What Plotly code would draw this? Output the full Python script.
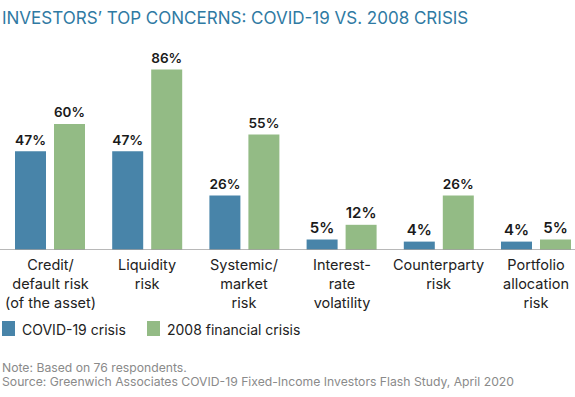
import plotly.graph_objects as go

categories = ["Credit/<br>default risk<br>(of the asset)", "Liquidity<br>risk",
              "Systemic/<br>market<br>risk", "Interest-<br>rate<br>volatility",
              "Counterparty<br>risk", "Portfolio<br>allocation<br>risk"]
covid = [47, 47, 26, 5, 4, 4]
gfc = [60, 86, 55, 12, 26, 5]
series_names = ["COVID-19 crisis", "2008 financial crisis"]

BLUE = "#4884a9"
GREEN = "#93bb85"
FONT = "Inter"
W, H = 575, 397


def py(pix):
    return 1 - pix / H


x = list(range(len(categories)))
bw = 31 / 97.2

fig = go.Figure()
for vals, col, name, off in [(covid, BLUE, series_names[0], -35), (gfc, GREEN, series_names[1], 4)]:
    fig.add_trace(go.Bar(x=x, y=vals, width=bw, offset=off / 97.2, marker_color=col,
                         marker_line_width=0, text=[f"{v}%" for v in vals],
                         textposition="outside", cliponaxis=False,
                         textfont=dict(family=FONT, size=15, color="#1a1a1a", weight=600),
                         name=name, showlegend=False))

for i, c in enumerate(categories):
    fig.add_annotation(x=i, y=0, xref="x", yref="y", text=c, showarrow=False,
                       yanchor="top", yshift=-4, align="center",
                       font=dict(family=FONT, size=14.5, color="#222"))

# legend
legend_items = [(2, BLUE, series_names[0]), (147, GREEN, series_names[1])]
for px, col, name in legend_items:
    fig.add_shape(type="rect", xref="paper", yref="paper",
                  x0=px / W, x1=(px + 13) / W,
                  y0=py(336), y1=py(321), fillcolor=col, line_width=0)
    fig.add_annotation(xref="paper", yref="paper", x=(px + 18) / W, y=py(329),
                       xanchor="left", yanchor="middle", text=name, showarrow=False,
                       font=dict(family=FONT, size=14, color="#222"))

fig.add_annotation(xref="paper", yref="paper", x=0, y=py(18), xanchor="left",
                   yanchor="middle", showarrow=False,
                   text="INVESTORS’ TOP CONCERNS: COVID-19 VS. 2008 CRISIS",
                   font=dict(family=FONT, size=17, color="#2f7aa3"))
fig.add_annotation(xref="paper", yref="paper", x=0, y=py(367), xanchor="left",
                   yanchor="middle", showarrow=False, text="Note: Based on 76 respondents.",
                   font=dict(family=FONT, size=12.2, color="#8a8a8a"))
fig.add_annotation(xref="paper", yref="paper", x=0, y=py(381), xanchor="left",
                   yanchor="middle", showarrow=False,
                   text="Source: Greenwich Associates COVID-19 Fixed-Income Investors Flash Study, April 2020",
                   font=dict(family=FONT, size=12.2, color="#8a8a8a"))

fig.update_layout(
    width=W, height=H, margin=dict(l=0, r=0, t=0, b=0, autoexpand=False),
    plot_bgcolor="white", paper_bgcolor="white", showlegend=False,
    xaxis=dict(domain=[0, 1], range=[-50 / 97.2, -50 / 97.2 + W / 97.2], showticklabels=False,
               showgrid=False, zeroline=False, showline=False, fixedrange=True),
    yaxis=dict(domain=[py(250), py(40)], range=[0, 100], visible=False, fixedrange=True),
)
fig.add_shape(type="line", xref="paper", yref="y", x0=0, x1=1, y0=0, y1=0,
              line=dict(color="#a0a0a0", width=1.5))

fig.write_html("out.html", config={"displayModeBar": False},
               post_script="document.body.style.margin='0';document.body.style.overflow='hidden';")
